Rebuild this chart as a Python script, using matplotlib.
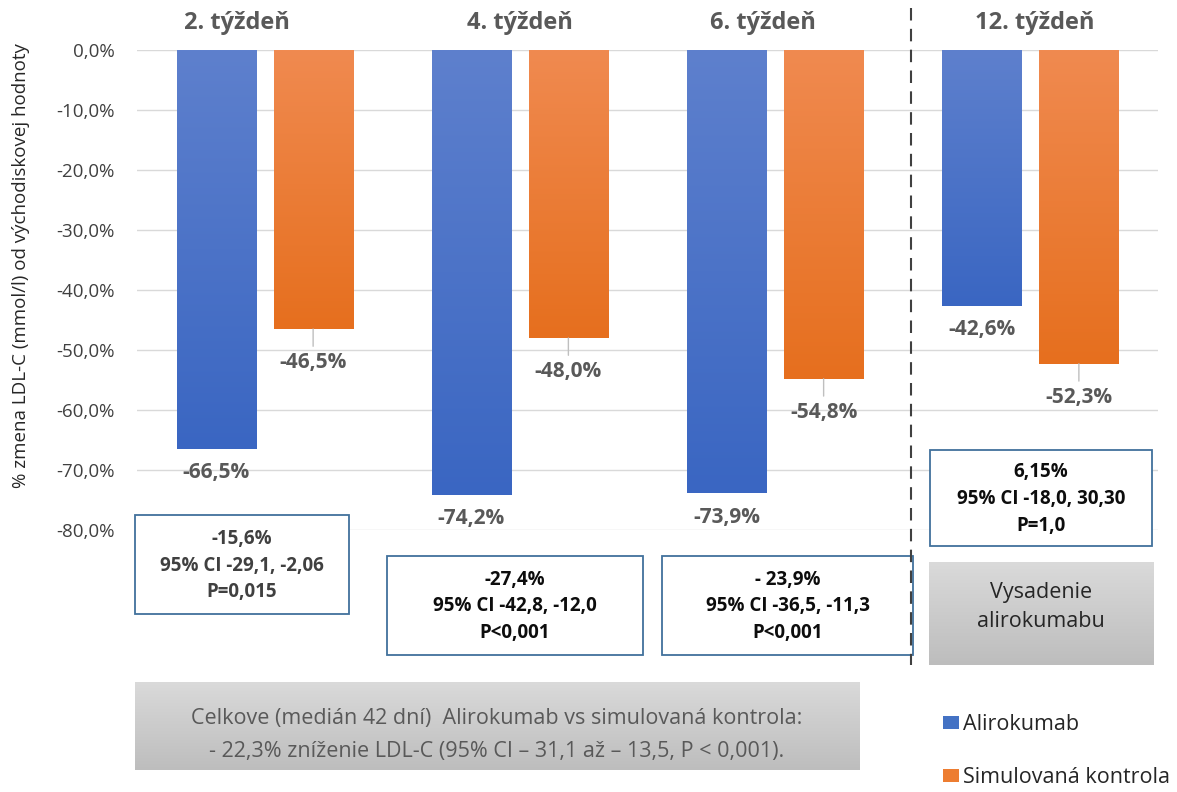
import numpy as np
import matplotlib
matplotlib.use("Agg")
import matplotlib.pyplot as plt
from matplotlib.colors import LinearSegmentedColormap
from matplotlib.patches import Rectangle

# ---- data ----
weeks = ["2. týždeň", "4. týždeň", "6. týždeň", "12. týždeň"]
alirokumab = [-66.5, -74.2, -73.9, -42.6]
kontrola = [-46.5, -48.0, -54.8, -52.3]
series_names = ["Alirokumab", "Simulovaná kontrola"]
yticks = [0, -10, -20, -30, -40, -50, -60, -70, -80]
box_texts = [
    "-15,6%\n95% CI -29,1, -2,06\nP=0,015",
    "-27,4%\n95% CI -42,8, -12,0\nP<0,001",
    "- 23,9%\n95% CI -36,5, -11,3\nP<0,001",
    "6,15%\n95% CI -18,0, 30,30\nP=1,0",
]
stop_text = "Vysadenie\nalirokumabu"
overall_text = ("Celkove (medián 42 dní)  Alirokumab vs simulovaná kontrola:\n"
                "- 22,3% zníženie LDL-C (95% CI – 31,1 až – 13,5, P < 0,001).")
ylabel = "% zmena LDL-C (mmol/l) od východiskovej hodnoty"

W, H = 1177, 792
plt.rcParams['font.family'] = ['Open Sans', 'DejaVu Sans']

fig = plt.figure(figsize=(W / 100, H / 100), dpi=100)
fig.patch.set_facecolor('white')

left, right, top, bottom = 137, 1158, 50, 530
ax = fig.add_axes([left / W, 1 - bottom / H, (right - left) / W, (bottom - top) / H])

x = np.arange(len(weeks))
bw = 0.31
off = 0.19
blue = '#4472C4'
orange = '#ED7D31'
b1 = ax.bar(x - off, alirokumab, bw, color=blue, zorder=3, label=series_names[0])
b2 = ax.bar(x + off, kontrola, bw, color=orange, zorder=3, label=series_names[1])

cm_blue = LinearSegmentedColormap.from_list('b', ['#5E80CD', '#3A66C2'])
cm_or = LinearSegmentedColormap.from_list('o', ['#F08A50', '#E66F1E'])
grad = np.linspace(0, 1, 256).reshape(-1, 1)
for bars, cm in ((b1, cm_blue), (b2, cm_or)):
    for r in bars:
        x0 = r.get_x()
        x1 = x0 + r.get_width()
        y1 = r.get_y()
        y0 = y1 + r.get_height()
        ax.imshow(grad, extent=[x0, x1, y0, y1], origin='upper', aspect='auto',
                  cmap=cm, zorder=4)

ax.set_xlim(-0.5, len(weeks) - 0.5)
ax.set_ylim(-80, 0)
ax.set_yticks(yticks)
ax.set_yticklabels([f"{v:.1f}%".replace('.', ',') for v in yticks],
                   fontsize=13.5, color='#404040')
ax.tick_params(axis='y', length=0, pad=16)
ax.set_xticks([])
ax.grid(axis='y', color='#D9D9D9', lw=1, zorder=0)
for s in ax.spines.values():
    s.set_visible(False)
ax.set_facecolor('none')

def fmt(v):
    return f"{v:.1f}%".replace('.', ',')

for r, v in zip(b1, alirokumab):
    ax.annotate(fmt(v), xy=(r.get_x() + r.get_width() / 2, v), xytext=(0, -17),
                textcoords='offset points', ha='center', va='center',
                fontsize=15, fontweight='bold', color='#595959', zorder=6)
for r, v in zip(b2, kontrola):
    ax.annotate(fmt(v), xy=(r.get_x() + r.get_width() / 2, v), xytext=(0, -24),
                textcoords='offset points', ha='center', va='center',
                fontsize=15, fontweight='bold', color='#595959', zorder=6,
                arrowprops=dict(arrowstyle='-', color='#BFBFBF', lw=1,
                                shrinkA=2, shrinkB=0))

# ---- overlay in pixel coordinates ----
ov = fig.add_axes([0, 0, 1, 1], zorder=5)
ov.set_xlim(0, W)
ov.set_ylim(H, 0)
ov.axis('off')
ov.patch.set_alpha(0)

title_x = [237, 520, 763, 1035]
for t, tx in zip(weeks, title_x):
    ov.text(tx, 23, t, ha='center', va='center', fontsize=17, fontweight='bold',
            color='#595959')

ov.text(21, 266, ylabel, rotation=90, ha='center', va='center', fontsize=13.5,
        color='#262626')

ov.plot([911, 911], [8, 665], color='#404040', lw=1.5, dashes=(6, 4))

boxes = [(135, 515, 214, 99, '#404040'), (387, 556, 256, 99, '#0D0D0D'),
         (662, 556, 251, 99, '#0D0D0D'), (930, 450, 222, 96, '#0D0D0D')]
for (bx, by, bwid, bh, tc), txt in zip(boxes, box_texts):
    ov.add_patch(Rectangle((bx, by), bwid, bh, facecolor='white',
                           edgecolor='#41719C', lw=1.3))
    ov.text(bx + bwid / 2, by + bh / 2 + 1, txt, ha='center', va='center',
            fontsize=13.5, fontweight='bold', color=tc, linespacing=1.45)

cm_gray = LinearSegmentedColormap.from_list('g', ['#DADADA', '#BDBDBD'])
for gx, gy, gw, gh in ((929, 562, 225, 103), (135, 682, 725, 88)):
    ov.imshow(grad, extent=[gx, gx + gw, gy + gh, gy], origin='upper',
              aspect='auto', cmap=cm_gray, zorder=1)
ov.set_xlim(0, W)
ov.set_ylim(H, 0)

ov.text(1041, 607, stop_text, ha='center', va='center', fontsize=15.5,
        color='#262626', linespacing=1.45, zorder=3)
ov.text(497, 735, overall_text, ha='center', va='center', fontsize=15.5,
        color='#595959', linespacing=1.8, zorder=3)

leg = fig.legend(handles=[b1, b2], labels=series_names,
                 loc='upper left', bbox_to_anchor=(943 / W, 1 - 714 / H),
                 frameon=False, handlelength=0.75, handleheight=0.56,
                 handletextpad=0.2, labelspacing=1.5, borderpad=0,
                 borderaxespad=0, prop={'size': 15.5})
for t in leg.get_texts():
    t.set_color('#262626')

fig.savefig('out.png', dpi=100, facecolor='white')
